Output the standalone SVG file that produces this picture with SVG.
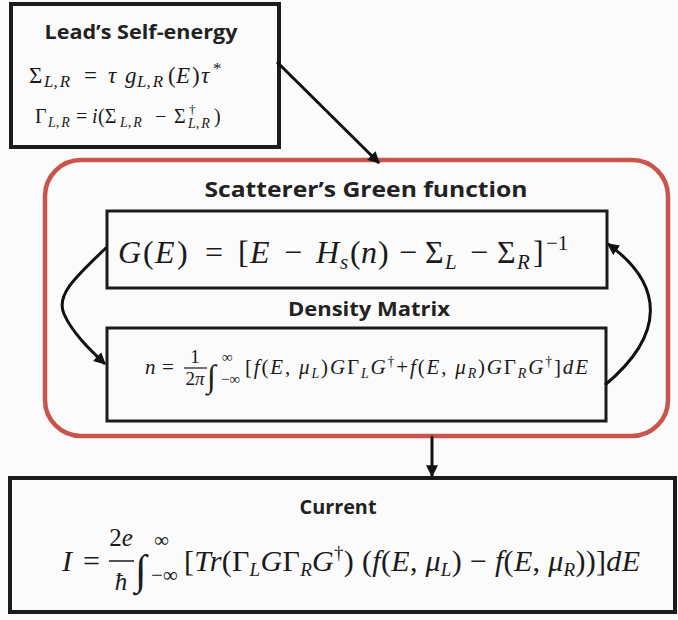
<svg xmlns="http://www.w3.org/2000/svg" width="678" height="620" viewBox="0 0 678 620">
<defs>
<style>
.box{fill:none;stroke:#1c1c1c;stroke-width:4}
.box2{fill:none;stroke:#1c1c1c;stroke-width:3}
.hd{font-family:"Open Sans",Lato,sans-serif;font-weight:700;fill:#222;text-anchor:middle}
.m{font-family:"Liberation Serif","DejaVu Serif",serif;fill:#1a1a1a}
.i{font-style:italic}
.con{fill:none;stroke:#111;stroke-width:3}
</style>
<marker id="ah" viewBox="0 0 10 10" refX="9" refY="5" markerWidth="4" markerHeight="4" orient="auto" markerUnits="strokeWidth">
<path d="M0,0 L10,5 L0,10 z" fill="#111"/>
</marker>
</defs>
<rect width="678" height="620" fill="#fbfbfb"/>

<g id="lead">
<rect class="box" x="11" y="4" width="268" height="143"/>
<text class="hd" x="141" y="39" font-size="19" textLength="193" lengthAdjust="spacingAndGlyphs">Lead’s Self-energy</text>
<text class="m" y="83" font-size="23"><tspan x="29">Σ</tspan><tspan class="i" font-size="17" x="44" dy="4">L,</tspan><tspan class="i" font-size="17" dx="2">R</tspan><tspan x="84" dy="-4">=</tspan><tspan class="i" x="108">τ</tspan><tspan class="i" x="125">g</tspan><tspan class="i" font-size="17" x="137" dy="4">L,</tspan><tspan class="i" font-size="17" dx="2">R</tspan><tspan x="168" dy="-4">(</tspan><tspan class="i" x="176">E</tspan><tspan x="192">)</tspan><tspan class="i" x="201">τ</tspan><tspan font-size="17" x="213" dy="-9">*</tspan></text>
<text class="m" y="123" font-size="20"><tspan x="35">Γ</tspan><tspan class="i" font-size="14" x="48" dy="4">L,</tspan><tspan class="i" font-size="14" dx="2">R</tspan><tspan x="76" dy="-4">=</tspan><tspan class="i" x="92">i</tspan><tspan x="98">(Σ</tspan><tspan class="i" font-size="14" x="120" dy="4">L,</tspan><tspan class="i" font-size="14" dx="2">R</tspan><tspan x="155" dy="-4">−</tspan><tspan x="174">Σ</tspan><tspan font-size="13" x="189" dy="-9">†</tspan><tspan class="i" font-size="14" x="188" dy="14">L,</tspan><tspan class="i" font-size="14" dx="2">R</tspan><tspan x="214" dy="-5">)</tspan></text>
</g>

<g id="scatterer">
<rect x="45" y="160" width="623" height="276" rx="36" fill="none" stroke="#c9544b" stroke-width="4.5"/>
<text class="hd" x="366" y="197" font-size="22" textLength="323" lengthAdjust="spacingAndGlyphs">Scatterer’s Green function</text>
</g>

<g id="green">
<rect class="box2" x="107" y="211" width="500" height="77"/>
<text class="m" y="263" font-size="32"><tspan class="i" x="118">G</tspan><tspan x="143">(</tspan><tspan class="i" x="155">E</tspan><tspan x="177">)</tspan><tspan x="205">=</tspan><tspan x="238">[</tspan><tspan class="i" x="250">E</tspan><tspan x="284">−</tspan><tspan class="i" x="316">H</tspan><tspan class="i" font-size="21" x="340" dy="6">s</tspan><tspan x="350" dy="-6">(</tspan><tspan class="i" x="361">n</tspan><tspan x="378">)</tspan><tspan x="399">−</tspan><tspan x="425">Σ</tspan><tspan class="i" font-size="21" x="445" dy="6">L</tspan><tspan x="470" dy="-6">−</tspan><tspan x="497">Σ</tspan><tspan class="i" font-size="21" x="517" dy="6">R</tspan><tspan x="533" dy="-6">]</tspan><tspan font-size="21" x="546" dy="-13">−1</tspan></text>
</g>

<g id="density">
<text class="hd" x="369" y="316" font-size="20" textLength="162" lengthAdjust="spacingAndGlyphs">Density Matrix</text>
<rect class="box2" x="107" y="328" width="499" height="93"/>
<text class="m" y="374" font-size="21"><tspan class="i" x="145">n</tspan><tspan x="162">=</tspan></text>
<text class="m" x="195" y="363" font-size="19" text-anchor="middle">1</text>
<line x1="184" y1="368" x2="207" y2="368" stroke="#1a1a1a" stroke-width="1.2"/>
<text class="m" x="195" y="385" font-size="19" text-anchor="middle">2<tspan class="i">π</tspan></text>
<text class="m i" x="207" y="387" font-size="32">∫</text>
<text class="m" x="222" y="362" font-size="15">∞</text>
<text class="m" x="221" y="384" font-size="15">−∞</text>
<text class="m" x="245" y="374" font-size="21" textLength="343" lengthAdjust="spacing">[<tspan class="i">f</tspan>(<tspan class="i">E</tspan>, <tspan class="i">μ</tspan><tspan class="i" font-size="14" dy="4">L</tspan><tspan dy="-4">)</tspan><tspan class="i">G</tspan>Γ<tspan class="i" font-size="14" dy="4">L</tspan><tspan class="i" dy="-4">G</tspan><tspan font-size="14" dy="-8">†</tspan><tspan dy="8">+</tspan><tspan class="i">f</tspan>(<tspan class="i">E</tspan>, <tspan class="i">μ</tspan><tspan class="i" font-size="14" dy="4">R</tspan><tspan dy="-4">)</tspan><tspan class="i">G</tspan>Γ<tspan class="i" font-size="14" dy="4">R</tspan><tspan class="i" dy="-4">G</tspan><tspan font-size="14" dy="-8">†</tspan><tspan dy="8">]</tspan><tspan class="i">dE</tspan></text>
</g>

<g id="current">
<rect class="box" x="10" y="478" width="665" height="134"/>
<text class="hd" x="338" y="514" font-size="20" textLength="77" lengthAdjust="spacingAndGlyphs">Current</text>
<text class="m" y="571" font-size="30"><tspan class="i" x="62">I</tspan><tspan x="83">=</tspan></text>
<text class="m" x="121" y="546" font-size="25" text-anchor="middle">2<tspan class="i">e</tspan></text>
<line x1="109" y1="561" x2="134" y2="561" stroke="#1a1a1a" stroke-width="1.5"/>
<text class="m i" x="121" y="590" font-size="25" text-anchor="middle">ħ</text>
<text class="m i" x="135" y="584" font-size="42">∫</text>
<text class="m" x="154" y="547" font-size="21">∞</text>
<text class="m" x="151" y="582" font-size="21">−∞</text>
<text class="m" x="184" y="571" font-size="30" textLength="456" lengthAdjust="spacing">[<tspan class="i">Tr</tspan>(Γ<tspan class="i" font-size="19" dy="5">L</tspan><tspan class="i" dy="-5">G</tspan>Γ<tspan class="i" font-size="19" dy="5">R</tspan><tspan class="i" dy="-5">G</tspan><tspan font-size="19" dy="-12">†</tspan><tspan dy="12">) (</tspan><tspan class="i">f</tspan>(<tspan class="i">E</tspan>, <tspan class="i">μ</tspan><tspan class="i" font-size="19" dy="5">L</tspan><tspan dy="-5">) − </tspan><tspan class="i">f</tspan>(<tspan class="i">E</tspan>, <tspan class="i">μ</tspan><tspan class="i" font-size="19" dy="5">R</tspan><tspan dy="-5">))]</tspan><tspan class="i">dE</tspan></text>
</g>

<g id="connectors">
<path class="con" d="M277,62 L379,163" marker-end="url(#ah)"/>
<path class="con" d="M107,247 C72,280 56,296 64,314 C72,332 88,348 105,364" marker-end="url(#ah)"/>
<path class="con" d="M605,385 C665,335 665,285 608,244" marker-end="url(#ah)"/>
<path class="con" d="M432,436 L432,476" marker-end="url(#ah)"/>
</g>
</svg>
